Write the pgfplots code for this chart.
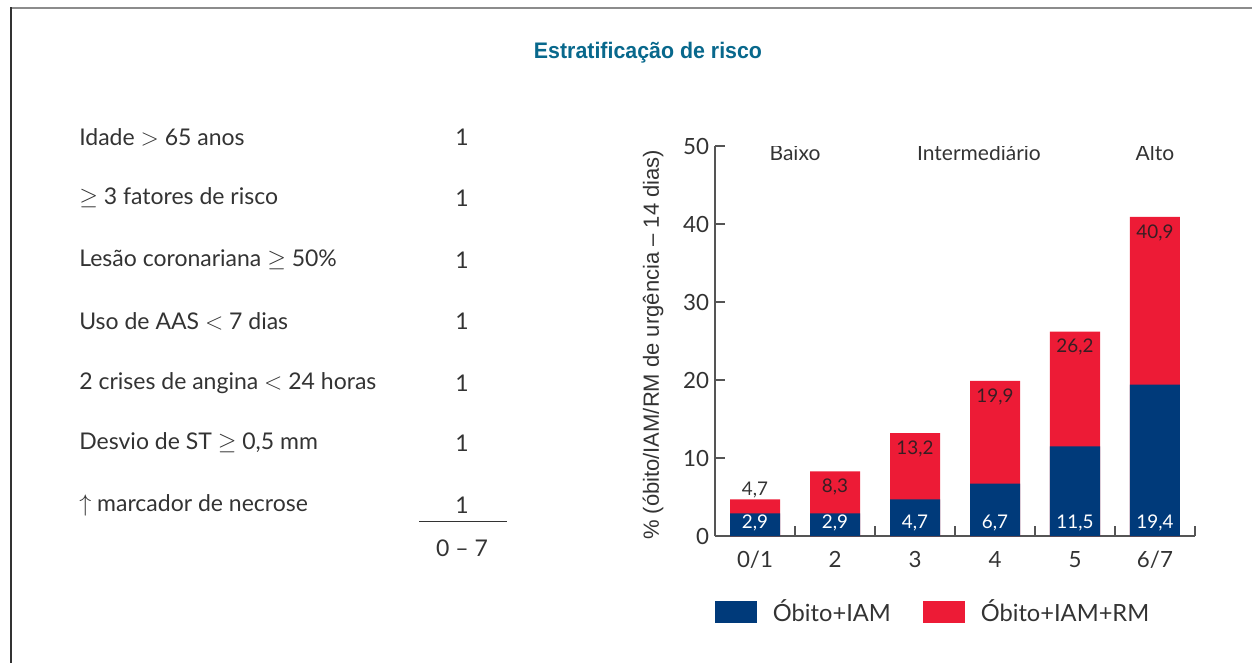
\documentclass[border=0pt]{standalone}
\usepackage{pgfplots}
\pgfplotsset{compat=1.18}
\usepackage{fontspec}
\setmainfont{Lato}
\newfontfamily\arialfont{Liberation Sans}
\newfontfamily\titlefont[FakeStretch=0.95]{Liberation Sans Bold}
\definecolor{barblue}{RGB}{0,58,122}
\definecolor{barred}{RGB}{237,27,54}
\definecolor{titleblue}{RGB}{8,104,140}
\definecolor{txt}{RGB}{51,51,51}
\definecolor{redtxt}{RGB}{55,30,35}
\definecolor{axisgray}{RGB}{85,85,85}
\begin{document}
\begin{tikzpicture}[x=0.6pt,y=-0.6pt]
\useasboundingbox (0,0) rectangle (1252,663);
\draw[line width=1.2pt, color=black!45] (10,7.5) -- (1252,7.5);
\draw[line width=0.9pt, color=black!80] (11,7) -- (11,663);
\node[font=\titlefont\fontsize{13.5}{16}\selectfont, text=titleblue] at (648,53) {Estratificação de risco};
\begin{scope}[every node/.style={font=\fontsize{13.8}{16}\selectfont, text=txt, inner sep=0pt}]
\node[anchor=west] at (79,137) {Idade $>$ 65 anos};
\node[anchor=west] at (79,198) {$\geq$ 3 fatores de risco};
\node[anchor=west] at (79,260) {Lesão coronariana $\geq$ 50\%};
\node[anchor=west] at (79,321) {Uso de AAS $<$ 7 dias};
\node[anchor=west] at (79,383) {2 crises de angina $<$ 24 horas};
\node[anchor=west] at (79,443) {Desvio de ST $\geq$ 0,5 mm};
\node[anchor=west] at (79,505) {$\uparrow$ marcador de necrose};
\node at (462,137) {1};
\node at (462,198) {1};
\node at (462,260) {1};
\node at (462,321) {1};
\node at (462,383) {1};
\node at (462,443) {1};
\node at (462,505) {1};
\node at (462,548) {0 – 7};
\end{scope}
\draw[line width=0.6pt, color=txt] (419,521) -- (507,521);
\begin{axis}[
  at={(429pt,-321.6pt)}, anchor=south west,
  scale only axis, width=288pt, height=234pt,
  xmin=-0.5, xmax=5.5, ymin=0, ymax=50,
  axis x line*=bottom, axis y line*=left,
  axis line style={-, draw=axisgray, line width=0.7pt},
  ybar, bar width=30pt, bar shift=0pt,
  xtick={-0.5,0.5,...,5.5}, x tick label as interval,
  xticklabels={0/1,2,3,4,5,6/7},
  ytick={0,10,...,50},
  tick align=inside, major tick length=6pt,
  tick style={draw=axisgray, line width=0.7pt},
  tick label style={font=\fontsize{13.4}{15}\selectfont, text=txt},
  xticklabel style={yshift=-5.5pt},
  /pgf/number format/assume math mode=true,
  every axis y label/.style={at={(axis description cs:-0.129,0.49)}, rotate=90, anchor=center},
  ylabel={\arialfont\fontsize{13.2}{16}\selectfont\color{txt}\% (óbito/IAM/RM de urgência – 14 dias)},
  reverse legend,
  legend image code/.code={\fill[#1] (0pt,-6.6pt) rectangle (25.2pt,6.6pt);},
  legend style={draw=none, fill=none, at={(axis description cs:0,-0.194)}, anchor=west,
    inner sep=0pt, outer sep=0pt,
    legend columns=2, font=\fontsize{14.2}{16}\selectfont, text=txt,
    nodes={inner sep=0pt},
    /tikz/every odd column/.append style={column sep=9.6pt},
    /tikz/every even column/.append style={column sep=19.2pt}},
]
\addplot[fill=barred, draw=none] coordinates {(0,4.7) (1,8.3) (2,13.2) (3,19.9) (4,26.2) (5,40.9)};
\addlegendentry{Óbito+IAM+RM}
\addplot[fill=barblue, draw=none] coordinates {(0,2.9) (1,2.9) (2,4.7) (3,6.7) (4,11.5) (5,19.4)};
\addlegendentry{Óbito+IAM}
% labels inside red bars
\addplot[draw=none, fill=none, forget plot, nodes near coords, point meta=explicit symbolic,
  every node near coord/.style={anchor=center, yshift=-9.4pt, font=\fontsize{11.3}{13}\selectfont, text=redtxt}]
  coordinates {(1,8.3)[8,3] (2,13.2)[13,2] (3,19.9)[19,9] (4,26.2)[26,2] (5,40.9)[40,9]};
\addplot[draw=none, fill=none, forget plot, nodes near coords, point meta=explicit symbolic,
  every node near coord/.style={anchor=center, yshift=5.6pt, font=\fontsize{11.3}{13}\selectfont, text=txt}]
  coordinates {(0,4.7)[4,7]};
% labels inside blue bars
\addplot[draw=none, fill=none, forget plot, nodes near coords, point meta=explicit symbolic,
  every node near coord/.style={anchor=center, yshift=7.6pt, font=\fontsize{11.3}{13}\selectfont, text=white}]
  coordinates {(0,0)[2,9] (1,0)[2,9] (2,0)[4,7] (3,0)[6,7] (4,0)[11,5] (5,0)[19,4]};
\node[font=\fontsize{12.6}{14}\selectfont, text=txt] at (axis cs:0.5,49.1) {Baixo};
\node[font=\fontsize{12.6}{14}\selectfont, text=txt] at (axis cs:2.8,49.1) {Intermediário};
\node[font=\fontsize{12.6}{14}\selectfont, text=txt] at (axis cs:5,49.1) {Alto};
\end{axis}
\end{tikzpicture}
\end{document}
